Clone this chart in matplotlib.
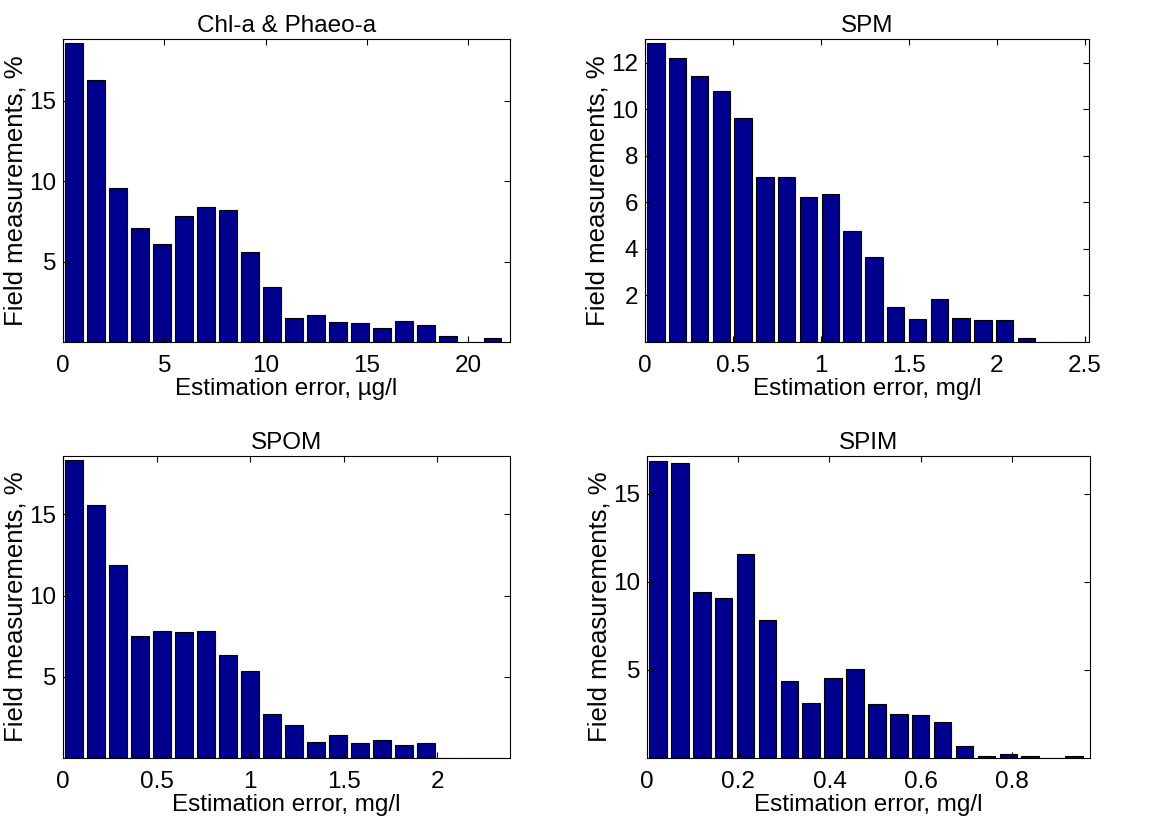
import numpy as np
import matplotlib
matplotlib.use('Agg')
import matplotlib.pyplot as plt

plt.rcParams['font.family'] = ['Liberation Sans', 'DejaVu Sans']
plt.rcParams['font.size'] = 17.5

#--percent of field measurements per error bin (20 bins each)
chl = [18.6, 16.28, 9.57, 7.09, 6.10, 7.81, 8.41, 8.18, 5.62, 3.39,
       1.47, 1.69, 1.24, 1.16, 0.85, 1.30, 1.07, 0.37, 0.0, 0.23]
spm = [12.85, 12.21, 11.41, 10.78, 9.62, 7.09, 7.09, 6.21, 6.35, 4.76,
       3.65, 1.51, 0.98, 1.84, 1.04, 0.94, 0.94, 0.19, 0.0, 0.0]
spom = [18.33, 15.59, 11.88, 7.51, 7.84, 7.76, 7.84, 6.37, 5.37, 2.73,
        2.02, 0.98, 1.43, 0.90, 1.10, 0.82, 0.90, 0.0, 0.0, 0.0]
spim = [16.87, 16.76, 9.40, 9.06, 11.57, 7.81, 4.38, 3.13, 4.51, 5.07,
        3.05, 2.49, 2.42, 2.02, 0.67, 0.10, 0.25, 0.10, 0.0, 0.10]

titles = ['Chl-a & Phaeo-a', 'SPM', 'SPOM', 'SPIM']
xlabels = ['Estimation error, \u00b5g/l', 'Estimation error, mg/l',
           'Estimation error, mg/l', 'Estimation error, mg/l']
max_err = [21.74, 2.48, 2.35, 0.96]    # upper edge of last bin
xlims = [22.07, 2.525, 2.388, 0.971]
ylims = [18.84, 13.02, 18.6, 17.13]
xticks = [[0, 5, 10, 15, 20], [0, 0.5, 1, 1.5, 2, 2.5],
          [0, 0.5, 1, 1.5, 2], [0, 0.2, 0.4, 0.6, 0.8]]
xticklabels = [['0', '5', '10', '15', '20'], ['0', '0.5', '1', '1.5', '2', '2.5'],
               ['0', '0.5', '1', '1.5', '2'], ['0', '0.2', '0.4', '0.6', '0.8']]
yticks = [[5, 10, 15], [2, 4, 6, 8, 10, 12], [5, 10, 15], [5, 10, 15]]

data = [chl, spm, spom, spim]

W, H = 1164, 825
#--axes boxes in pixels: left, top, right, bottom
boxes = [(63, 39, 510, 342), (645, 39, 1089, 342),
         (63, 456, 510, 758), (647, 456, 1090, 758)]

fig = plt.figure(figsize=(W / 100, H / 100), dpi=100)

for i in range(4):
    l, t, r, b = boxes[i]
    ax = fig.add_axes([l / W, 1 - b / H, (r - l) / W, (b - t) / H])
    vals = np.array(data[i])
    w = max_err[i] / len(vals)
    centers = (np.arange(len(vals)) + 0.5) * w
    ax.bar(centers, vals, width=0.8 * w, color='#00008f', edgecolor='black', linewidth=0.8)
    ax.set_xlim(0, xlims[i])
    ax.set_ylim(0, ylims[i])
    ax.set_xticks(xticks[i])
    ax.set_xticklabels(xticklabels[i])
    ax.set_yticks(yticks[i])
    ax.tick_params(direction='in', top=True, right=True, length=4, width=0.8)
    ax.tick_params(axis='x', pad=9)
    ax.tick_params(axis='y', pad=5)
    for s in ax.spines.values():
        s.set_linewidth(0.8)
    ax.set_title(titles[i], fontsize=17.5, pad=5)
    ax.set_xlabel(xlabels[i], labelpad=1)
    ax.set_ylabel('Field measurements, %', fontsize=18.5, labelpad=1)

fig.savefig('out.png', dpi=100)
